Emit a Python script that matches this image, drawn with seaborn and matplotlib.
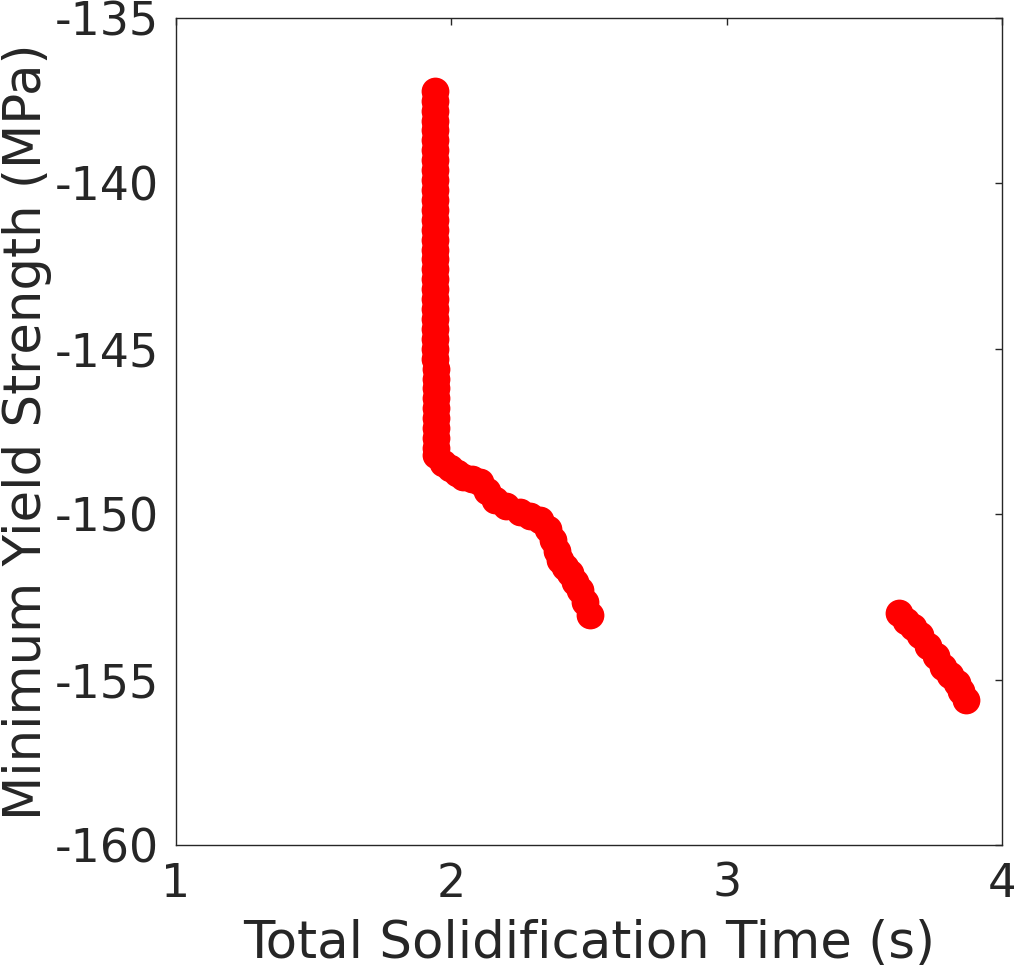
import matplotlib
matplotlib.use('Agg')
import matplotlib.pyplot as plt
import pandas as pd
import seaborn as sns

sns.set_style('white')
plt.rcParams['font.family'] = ['DejaVu Sans']
plt.rcParams['axes.unicode_minus'] = False

# vertical run near 1.94 s
vert_time = [1.939] * 28 + [1.946] * 10
vert_strength = [-137.2, -137.5, -137.8, -138.1, -138.4, -138.7, -139.0, -139.3,
                 -139.6, -139.9, -140.2, -140.5, -140.8, -141.1, -141.4, -141.7,
                 -142.0, -142.3, -142.6, -142.9, -143.2, -143.5, -143.8, -144.1,
                 -144.4, -144.7, -145.0, -145.3,
                 -145.6, -145.9, -146.2, -146.5, -146.8, -147.1, -147.4, -147.7,
                 -148.0, -148.2]

# bend towards 2.5 s
bend_time = [1.97, 1.995, 2.02, 2.043, 2.075, 2.104, 2.13, 2.159, 2.2, 2.249,
             2.285, 2.322, 2.35, 2.37, 2.385, 2.395, 2.413, 2.431, 2.45, 2.467,
             2.485, 2.504]
bend_strength = [-148.45, -148.61, -148.75, -148.87, -148.95, -149.02, -149.3,
                 -149.57, -149.75, -149.92, -150.05, -150.18, -150.45, -150.78,
                 -151.1, -151.38, -151.6, -151.79, -152.05, -152.29, -152.65,
                 -153.05]

# second branch near 3.6-3.9 s
far_time = [3.627, 3.65, 3.675, 3.702, 3.73, 3.76, 3.787, 3.81, 3.835, 3.852, 3.869]
far_strength = [-153.0, -153.22, -153.42, -153.65, -153.98, -154.3, -154.61,
                -154.85, -155.11, -155.36, -155.62]

df = pd.DataFrame({
    'time': vert_time + bend_time + far_time,
    'strength': vert_strength + bend_strength + far_strength,
})

fig = plt.figure(figsize=(10.14, 9.69), dpi=100)
ax = fig.add_axes([0.1736, 0.128, 0.8146, 0.8534])
sns.scatterplot(data=df, x='time', y='strength', color='#ff0000', s=400,
                linewidth=0, ax=ax, zorder=3)

ax.set_xlim(1, 4)
ax.set_ylim(-160, -135)
ax.set_xticks([1, 2, 3, 4])
ax.set_yticks([-160, -155, -150, -145, -140, -135])
ax.tick_params(direction='in', top=True, right=True, length=5, width=1,
               color='#262626', labelsize=33, labelcolor='#262626', pad=12)
for side in ax.spines.values():
    side.set_color('#262626')
    side.set_linewidth(1)

ax.set_xlabel('Total Solidification Time (s)', fontsize=37, color='#262626', labelpad=9)
ax.set_ylabel('Minimum Yield Strength (MPa)', fontsize=37, color='#262626', labelpad=2)

fig.savefig('out.png', dpi=100)
